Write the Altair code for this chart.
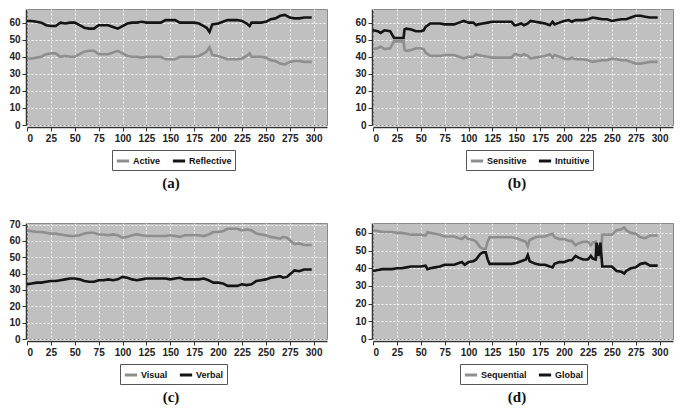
import altair as alt
import pandas as pd

# ---------------- data ----------------
a_x = [0, 5, 10, 15, 20, 25, 30, 35, 40, 45, 50, 55, 60, 65, 70, 75, 80, 85, 90, 95,
       100, 105, 110, 115, 120, 125, 130, 135, 140, 145, 150, 155, 160, 165, 170, 175,
       180, 185, 188, 191, 194, 200, 205, 210, 215, 220, 225, 230, 233, 235, 240, 245,
       250, 255, 260, 265, 270, 275, 280, 285, 290, 295, 298]
a_reflective = [61, 61, 60.5, 60, 58.5, 58, 58, 60, 59.5, 60, 60, 58.5, 57, 56.5, 56.5,
                58.5, 58.5, 58.5, 57.5, 56.5, 58, 59.5, 60, 60, 60.5, 60, 60, 60, 60, 61.5,
                61.5, 61.5, 60, 60, 60, 60, 59.5, 58, 57, 54.5, 59, 59.5, 60.5, 61.5, 61.5,
                61.5, 61, 59.5, 58, 60, 60, 60, 60.5, 62, 62.5, 64, 64.5, 63, 62.5, 62.5,
                63, 63, 63]
a_active = [39, 39, 39.5, 40, 41.5, 42, 42, 40, 40.5, 40, 40, 41.5, 43, 43.5, 43.5,
            41.5, 41.5, 41.5, 42.5, 43.5, 42, 40.5, 40, 40, 39.5, 40, 40, 40, 40, 38.5,
            38.5, 38.5, 40, 40, 40, 40, 40.5, 42, 43, 45.5, 41, 40.5, 39.5, 38.5, 38.5,
            38.5, 39, 40.5, 42, 40, 40, 40, 39.5, 38, 37.5, 36, 35.5, 37, 37.5, 37.5,
            37, 37, 37]

b_x = [0, 5, 8, 12, 18, 20, 22, 25, 30, 32, 33, 35, 40, 45, 50, 53, 55, 60, 65, 70,
       75, 80, 85, 90, 95, 100, 105, 108, 110, 115, 120, 125, 130, 135, 140, 145, 148,
       150, 155, 158, 162, 165, 170, 175, 180, 185, 188, 190, 195, 200, 205, 208, 212,
       220, 225, 230, 235, 240, 245, 250, 255, 260, 265, 270, 275, 280, 285, 290, 298]
b_intuitive = [55.5, 55, 54, 55.5, 55, 53, 51, 51, 51, 51, 56, 56.5, 56, 55, 55, 55.5,
               57.5, 59.5, 59.5, 59.5, 59, 59, 59, 60, 61, 60, 60, 58.5, 59, 59.5, 60,
               60.5, 60.5, 60.5, 60.5, 60.5, 58.5, 58.5, 59.5, 58.5, 59.5, 61, 60.5, 60,
               59.5, 58.5, 60.5, 59, 60, 61, 61.5, 60.5, 61.5, 61.5, 62, 63, 62.5, 62,
               62, 61, 61.5, 62, 62, 63, 64, 64, 63.5, 63, 63]
b_sensitive = [44.5, 45, 46, 44.5, 45, 47, 49, 49, 49, 49, 44, 43.5, 44, 45, 45, 44.5,
               42.5, 40.5, 40.5, 40.5, 41, 41, 41, 40, 39, 40, 40, 41.5, 41, 40.5, 40,
               39.5, 39.5, 39.5, 39.5, 39.5, 41.5, 41.5, 40.5, 41.5, 40.5, 39, 39.5, 40,
               40.5, 41.5, 39.5, 41, 40, 39, 38.5, 39.5, 38.5, 38.5, 38, 37, 37.5, 38,
               38, 39, 38.5, 38, 38, 37, 36, 36, 36.5, 37, 37]

c_x = [0, 5, 10, 15, 20, 25, 30, 35, 40, 45, 50, 55, 60, 65, 70, 75, 80, 85, 90, 95,
       100, 105, 110, 115, 120, 125, 130, 135, 140, 145, 150, 155, 160, 165, 170, 175,
       180, 185, 190, 195, 200, 205, 210, 215, 220, 225, 230, 235, 240, 245, 250, 255,
       260, 265, 268, 272, 275, 280, 285, 290, 298]
c_visual = [66.5, 66, 65.5, 65.5, 65, 64.5, 64.5, 64, 63.5, 63, 63, 63.5, 64.5, 65, 65,
            64, 64, 63.5, 64, 63.5, 62, 62.5, 63.5, 64, 63.5, 63, 63, 63, 63, 63, 63.5,
            63, 62.5, 63.5, 63.5, 63.5, 63.5, 63, 64, 65.5, 65.5, 66, 67.5, 67.5, 67.5,
            66.5, 67, 66.5, 64.5, 64, 63.5, 62.5, 62, 61.5, 62.5, 62, 60.5, 58, 58.5,
            57.5, 57.5]
c_verbal = [33.5, 34, 34.5, 34.5, 35, 35.5, 35.5, 36, 36.5, 37, 37, 36.5, 35.5, 35, 35,
            36, 36, 36.5, 36, 36.5, 38, 37.5, 36.5, 36, 36.5, 37, 37, 37, 37, 37, 36.5,
            37, 37.5, 36.5, 36.5, 36.5, 36.5, 37, 36, 34.5, 34.5, 34, 32.5, 32.5, 32.5,
            33.5, 33, 33.5, 35.5, 36, 36.5, 37.5, 38, 38.5, 37.5, 38, 39.5, 42, 41.5,
            42.5, 42.5]

d_x = [0, 5, 10, 15, 20, 25, 30, 35, 40, 45, 50, 55, 57, 60, 65, 70, 75, 80, 85, 90,
       93, 96, 100, 105, 108, 112, 115, 118, 120, 122, 125, 130, 135, 140, 145, 150,
       155, 160, 162, 164, 170, 175, 180, 185, 188, 190, 195, 200, 205, 208, 212, 215,
       220, 225, 228, 230, 233, 234, 236, 238, 240, 245, 250, 255, 260, 263, 265, 270,
       275, 280, 285, 290, 298]
d_sequential = [61.5, 61, 60.5, 60.5, 60.5, 60, 60, 59.5, 59, 59, 59, 58.5, 60.5, 60,
                59.5, 59, 58, 58, 58, 57, 56.5, 58, 56.5, 56, 55, 52, 51, 51, 55, 57.5,
                57.5, 57.5, 57.5, 57.5, 57.5, 57, 56, 55, 52.5, 56, 57.5, 58, 58, 59,
                59.5, 57.5, 56.5, 56.5, 55.5, 55.5, 53, 54, 55, 55, 53, 54.5, 55, 45.5,
                53, 45.5, 59, 59, 59, 61.5, 62, 63, 61.5, 60, 59.5, 57.5, 57, 58.5, 58.5]
d_global = [38.5, 39, 39.5, 39.5, 39.5, 40, 40, 40.5, 41, 41, 41, 41.5, 39.5, 40, 40.5,
            41, 42, 42, 42, 43, 43.5, 42, 43.5, 44, 45, 48, 49, 49, 45, 42.5, 42.5,
            42.5, 42.5, 42.5, 42.5, 43, 44, 45, 47.5, 44, 42.5, 42, 42, 41, 40.5, 42.5,
            43.5, 43.5, 44.5, 44.5, 47, 46, 45, 45, 47, 45.5, 45, 54.5, 47, 54.5, 41,
            41, 41, 38.5, 38, 37, 38.5, 40, 40.5, 42.5, 43, 41.5, 41.5]

x_ticks = [0, 25, 50, 75, 100, 125, 150, 175, 200, 225, 250, 275, 300]

GRAY = "#8e8e8e"
BLACK = "#141414"
W, H = 300, 116
SANS = "Liberation Sans"


def panel(xs, s1, s2, n1, n2, ymax, yticks, caption, legend_x):
    df = pd.DataFrame({
        "x": xs + xs,
        "v": s1 + s2,
        "s": [n1] * len(xs) + [n2] * len(xs),
    })
    return alt.Chart(df).mark_line(strokeWidth=2.6).encode(
        x=alt.X("x:Q", scale=alt.Scale(domain=[0, 314], nice=False, zero=False),
                axis=alt.Axis(values=x_ticks, title=None, offset=2)),
        y=alt.Y("v:Q", scale=alt.Scale(domain=[0, ymax], nice=False),
                axis=alt.Axis(values=yticks, title=None, offset=1)),
        color=alt.Color("s:N", scale=alt.Scale(domain=[n1, n2], range=[GRAY, BLACK]),
                        legend=alt.Legend(orient="none", direction="horizontal",
                                          legendX=legend_x, legendY=H + 25, title=None)),
    ).properties(
        width=W, height=H,
        title=alt.TitleParams(caption, orient="bottom", anchor="middle",
                              font="Liberation Serif", fontSize=15,
                              fontWeight="bold", color="#111", offset=5, dx=-6),
    )


pa = panel(a_x, a_active, a_reflective, "Active", "Reflective", 68,
           [0, 10, 20, 30, 40, 50, 60], "(a)", 85)
pb = panel(b_x, b_sensitive, b_intuitive, "Sensitive", "Intuitive", 68,
           [0, 10, 20, 30, 40, 50, 60], "(b)", 93)
pc = panel(c_x, c_visual, c_verbal, "Visual", "Verbal", 71,
           [0, 10, 20, 30, 40, 50, 60, 70], "(c)", 93)
pd_ = panel(d_x, d_sequential, d_global, "Sequential", "Global", 65.6,
            [0, 10, 20, 30, 40, 50, 60], "(d)", 87)

chart = alt.vconcat(
    alt.hconcat(pa, pb, spacing=26).resolve_scale(color="independent"),
    alt.hconcat(pc, pd_, spacing=26).resolve_scale(color="independent"),
    spacing=28,
).resolve_scale(color="independent").configure_view(
    fill="#c0c0c0", stroke="#8a8a8a", strokeWidth=1
).configure_axis(
    labelFont=SANS, labelFontSize=10, labelFontWeight="bold", labelColor="#222",
    domainColor="#333", domainWidth=1.5, tickColor="#333", tickSize=4,
    gridColor="#ffffff", gridDash=[2, 2], gridWidth=1, gridOpacity=0.9,
    labelPadding=2,
).configure_legend(
    strokeColor="#555", fillColor="#ffffff", padding=3, cornerRadius=0,
    symbolType="stroke", symbolStrokeWidth=3, symbolSize=150,
    labelFont=SANS, labelFontSize=9, labelFontWeight="bold", labelColor="#111",
    columnPadding=5, labelOffset=2,
).properties(padding=0)

chart.save("out.html", embed_options={"renderer": "svg", "actions": False})
